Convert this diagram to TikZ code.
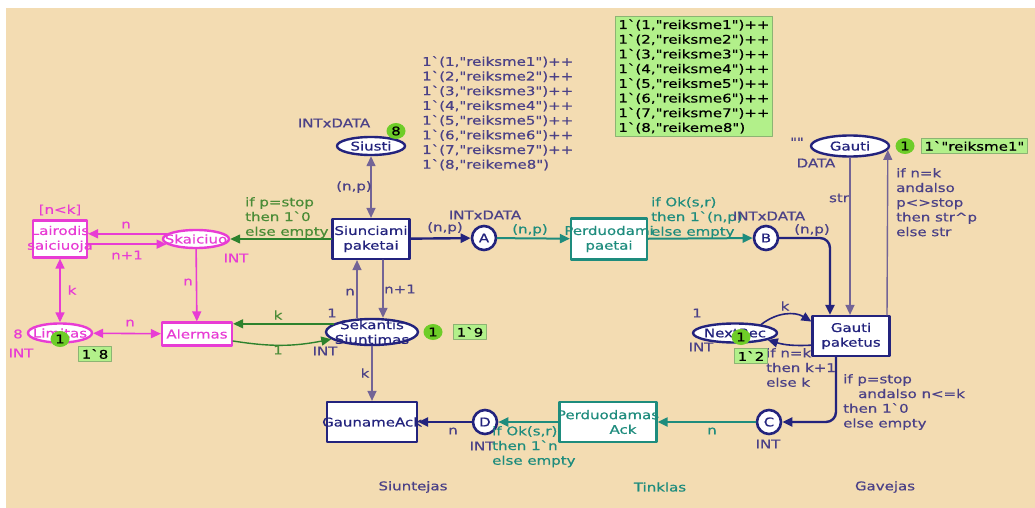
\documentclass[tikz,border=0pt]{standalone}
\usepackage{fontspec}
\setmainfont{DejaVu Sans}[FakeStretch=1.25,FakeBold=0.6,Ligatures=TeXOff]
\usetikzlibrary{arrows.meta,shapes.geometric}
\definecolor{cpnbg}{RGB}{243,220,178}
\definecolor{cpnnavy}{RGB}{35,35,125}
\definecolor{cpnink}{RGB}{75,65,135}
\definecolor{cpnarc}{RGB}{115,100,150}
\definecolor{cpnmag}{RGB}{232,60,212}
\definecolor{cpngreen}{RGB}{45,130,45}
\definecolor{cpngtext}{RGB}{75,140,55}
\definecolor{cpnteal}{RGB}{30,140,125}
\definecolor{tokfill}{RGB}{110,205,40}
\definecolor{markfill}{RGB}{178,240,138}
\definecolor{markline}{RGB}{140,180,115}

\begin{document}
\begin{tikzpicture}[line cap=round,line join=round,>={Triangle[length=10pt,width=9pt]},x=1pt,y=-1pt,
  font=\fontsize{12}{14.7}\selectfont,
  place/.style={ellipse,draw=cpnnavy,line width=2.4pt,fill=white,inner sep=0pt,label={[text=cpnnavy,align=center]center:#1}},
  magplace/.style={ellipse,draw=cpnmag,line width=2.4pt,fill=white,inner sep=0pt,label={[text=cpnmag,align=center]center:#1}},
  port/.style={circle,draw=cpnnavy,line width=2.6pt,fill=white,inner sep=0pt,minimum size=24pt,text=cpnnavy},
  trans/.style={rectangle,draw=cpnnavy,line width=2.2pt,fill=white,inner sep=0pt,label={[text=cpnnavy,align=center]center:#1}},
  magtrans/.style={rectangle,draw=cpnmag,line width=2.2pt,fill=white,inner sep=0pt,label={[text=cpnmag,align=center]center:#1}},
  tealtrans/.style={rectangle,draw=cpnteal,line width=2.2pt,fill=white,inner sep=0pt,label={[text=cpnteal,align=center]center:#1}},
  token/.style={ellipse,fill=tokfill,inner sep=0pt,minimum width=19pt,minimum height=16pt},
  markbox/.style={fill=markfill,draw=markline,line width=0.8pt,inner sep=3pt,align=left},
  insc/.style={text=cpnink,inner sep=0pt,align=left},
  maginsc/.style={text=cpnmag,inner sep=0pt,align=left},
  greeninsc/.style={text=cpngtext,inner sep=0pt,align=left},
  tealinsc/.style={text=cpnteal,inner sep=0pt,align=left},
  navyarc/.style={draw=cpnnavy,line width=2.4pt},
  midarc/.style={draw=cpnnavy,line width=1.6pt},
  thinarc/.style={draw=cpnarc,line width=1.4pt},
  magarc/.style={draw=cpnmag,line width=1.6pt},
  greenarc/.style={draw=cpngreen,line width=1.4pt},
  tealarc/.style={draw=cpnteal,line width=2pt}]
\useasboundingbox (0,0) rectangle (1035,508);
\fill[cpnbg] (6,8) rectangle (1035,508);

\node[place=Siusti,minimum width=68pt,minimum height=18pt] (siusti) at (371,146) {};
\node[place=Gauti,minimum width=78pt,minimum height=21pt] (gauti) at (850,146) {};
\node[magplace=Skaiciuo,minimum width=66pt,minimum height=18pt] (skaic) at (196,239) {};
\node[magplace=Limitas,minimum width=64pt,minimum height=19pt] (limit) at (60,333) {};
\node[place={Sekantis\\Siuntimas},minimum width=92pt,minimum height=26pt] (sekant) at (372,332) {};
\node[place=NextRec,minimum width=84pt,minimum height=19pt] (nextrec) at (735,333) {};
\node[port] (pA) at (484,238) {A};
\node[port] (pB) at (766,238) {B};
\node[port] (pC) at (769,422) {C};
\node[port] (pD) at (485,422) {D};

\node[magtrans={Lairodis\\saiciuoja},minimum width=54pt,minimum height=37pt] (lairod) at (60,239) {};
\node[magtrans=Alermas,minimum width=70pt,minimum height=23pt] (alerm) at (197,334) {};
\node[trans={Siunciami\\paketai},minimum width=77pt,minimum height=40pt] (siunc) at (371,239) {};
\node[tealtrans={Perduodami\\paetai},minimum width=76pt,minimum height=41pt] (perdp) at (609,239) {};
\node[trans={Gauti\\paketus},minimum width=77pt,minimum height=40pt] (gautip) at (851,336) {};
\node[tealtrans={Perduodamas\\\hspace*{30pt}Ack},minimum width=97pt,minimum height=40pt] (perda) at (608,422) {};
\node[trans=GaunameAck,minimum width=90pt,minimum height=40pt] (gaunam) at (372,422) {};

\draw[thinarc,<->] (siusti) -- (siunc);
\draw[navyarc,->] (siunc) -- (pA);
\draw[tealarc,->] (pA) -- (perdp);
\draw[tealarc,->] (perdp) -- (pB);
\draw[navyarc,->,rounded corners=10pt] (pB) -| ([xshift=-21pt]gautip.north);
\draw[thinarc,->] (gauti.south) -- (gauti.south |- gautip.north);
\draw[thinarc,->] ([xshift=36pt]gautip.north) -- (gauti.-6);
\draw[greenarc,->] (siunc) -- (skaic);
\draw[magarc,->] (skaic.170) -- (skaic.170 -| lairod.east);
\draw[magarc,->] (lairod.east |- skaic.190) -- (skaic.190);
\draw[magarc,<->] (lairod) -- (limit);
\draw[magarc,->] (skaic) -- (alerm);
\draw[magarc,<->] (limit) -- (alerm);
\draw[greenarc,->] (sekant.168) -- (sekant.168 -| alerm.east);
\draw[greenarc,->] ([yshift=-7pt]alerm.east) to[bend right=10] (sekant.190);
\draw[thinarc,->] ([xshift=-14pt]siunc.south |- sekant.north) -- ([xshift=-14pt]siunc.south);
\draw[thinarc,->] ([xshift=12pt]siunc.south) -- ([xshift=12pt]siunc.south |- sekant.north);
\draw[thinarc,->] (sekant) -- (gaunam);
\draw[navyarc,->] (pD) -- (gaunam);
\draw[tealarc,->] (perda) -- (pD);
\draw[tealarc,->] (pC) -- (perda);
\draw[navyarc,->,rounded corners=10pt] ([xshift=-15pt]gautip.south) |- (pC);
\draw[midarc,->] (nextrec.18) to[bend left=35] (gautip.160);
\draw[midarc,->] (gautip.193) to[bend left=10] (nextrec.-12);

\node[insc] (tsiusti) at (334,123) {INTxDATA};
\node[insc,anchor=north west] (isiusti) at (422,56) {1`(1,"reiksme1")++\\1`(2,"reiksme2")++\\1`(3,"reiksme3")++\\1`(4,"reiksme4")++\\1`(5,"reiksme5")++\\1`(6,"reiksme6")++\\1`(7,"reiksme7")++\\1`(8,"reikeme8")};
\node[insc] (lnp1) at (354,187) {(n,p)};
\node[insc] (lnp2) at (445,228) {(n,p)};
\node[insc] (tA) at (485,215) {INTxDATA};
\node[tealinsc] (lnp3) at (530,230) {(n,p)};
\node[tealinsc,anchor=north west] (lok1) at (651,197) {if Ok(s,r)\\then 1`(n,p)\\else empty};
\node[insc] (tB) at (769,216) {INTxDATA};
\node[insc] (lnp4) at (812,230) {(n,p)};
\node[insc] (lstr) at (839,198) {str};
\node[insc,anchor=north west] (lret) at (896,168) {if n=k\\andalso\\p<>stop\\then str\textasciicircum p\\else str};
\node[insc] (tgauti) at (816,163) {DATA};
\node[insc] (igauti) at (797,142) {""};

\node[maginsc] (guard) at (60,210) {[n<k]};
\node[maginsc] (ln1) at (126,225) {n};
\node[maginsc] (ln2) at (127,255) {n+1};
\node[maginsc] (tskaic) at (236,258) {INT};
\node[maginsc] (lk1) at (72,290) {k};
\node[maginsc] (ln3) at (188,282) {n};
\node[maginsc] (ln4) at (130,323) {n};
\node[maginsc] (ilimit) at (18,334) {8};
\node[maginsc] (tlimit) at (21,353) {INT};
\node[greeninsc,anchor=north west] (lstop) at (245,197) {if p=stop\\then 1`0\\else empty};
\node[greeninsc] (lk2) at (278,315) {k};
\node[greeninsc] (l1) at (278,350) {1};

\node[insc] (isekant) at (332,313) {1};
\node[insc] (tsekant) at (325,351) {INT};
\node[insc] (ln5) at (350,292) {n};
\node[insc] (ln6) at (400,289) {n+1};
\node[insc] (lk3) at (365,373) {k};
\node[insc] (ln7) at (453,431) {n};
\node[insc] (tD) at (482,446) {INT};
\node[tealinsc,anchor=north west] (lok2) at (492,426) {if Ok(s,r)\\then 1`n\\else empty};
\node[tealinsc] (ln8) at (712,431) {n};
\node[insc] (tC) at (768,444) {INT};
\node[insc,anchor=north west] (lack) at (843,374) {if p=stop\\\hspace*{15pt}andalso n<=k\\then 1`0\\else empty};
\node[insc] (inext) at (697,313) {1};
\node[insc] (tnext) at (701,347) {INT};
\node[insc] (lk4) at (785,306) {k};
\node[insc,anchor=north west] (lnext) at (766,348) {if n=k\\then k+1\\else k};

\node[insc] (siuntejas) at (413,487) {Siuntejas};
\node[tealinsc] (tinklas) at (660,487) {Tinklas};
\node[insc] (gavejas) at (885,487) {Gavejas};

\node[token] (ksiusti) at (396,131) {8};
\node[markbox,anchor=north west] (msiusti) at (615,16) {1`(1,"reiksme1")++\\1`(2,"reiksme2")++\\1`(3,"reiksme3")++\\1`(4,"reiksme4")++\\1`(5,"reiksme5")++\\1`(6,"reiksme6")++\\1`(7,"reiksme7")++\\1`(8,"reikeme8")};
\node[token] (kgauti) at (905,146) {1};
\node[markbox,anchor=west] (mgauti) at (921,146) {1`"reiksme1"};
\node[token] (klimit) at (60,339) {1};
\node[markbox] (mlimit) at (95,354) {1`8};
\node[token] (ksekant) at (433,332) {1};
\node[markbox] (msekant) at (470,332) {1`9};
\node[token] (knext) at (741,337) {1};
\node[markbox] (mnext) at (751,356) {1`2};
\end{tikzpicture}
\end{document}
